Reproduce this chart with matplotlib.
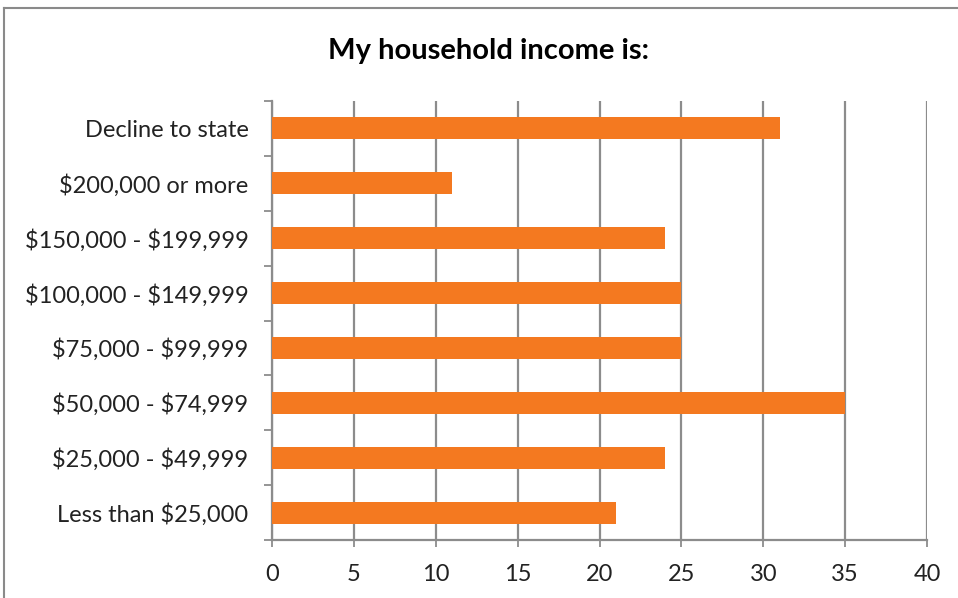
import matplotlib.pyplot as plt
from matplotlib.lines import Line2D
import numpy as np

categories = ['Less than $25,000', '$25,000 - $49,999', '$50,000 - $74,999',
              '$75,000 - $99,999', '$100,000 - $149,999', '$150,000 - $199,999',
              '$200,000 or more', 'Decline to state']
values = [21, 24, 35, 25, 25, 24, 11, 31]
xticks = [0, 5, 10, 15, 20, 25, 30, 35, 40]

plt.rcParams['font.family'] = ['Lato', 'DejaVu Sans']

fig = plt.figure(figsize=(9.58, 5.98), dpi=100)
ax = fig.add_axes([272 / 958, 1 - 540 / 598, 655 / 958, 439 / 598])

pos = np.arange(len(categories))
ax.barh(pos, values, height=0.4, color='#F47920', zorder=3)

ax.set_xlim(0, 40)
ax.set_ylim(-0.5, len(categories) - 0.5)
ax.set_xticks(xticks)
ax.set_xticklabels([str(t) for t in xticks], fontsize=17, color='#222222')
ax.set_yticks(pos)
# escape the dollar signs so they are not read as math text
ax.set_yticklabels([c.replace('$', r'\$') for c in categories], fontsize=17, color='#222222')
ax.set_yticks(np.arange(-0.5, len(categories)), minor=True)

ax.grid(axis='x', color='#8c8c8c', linewidth=1.6, zorder=0)
ax.tick_params(axis='y', which='major', length=0, pad=17)
ax.tick_params(axis='y', which='minor', length=6, width=1.3, color='#8c8c8c', direction='out')
ax.tick_params(axis='x', length=5, width=1.3, color='#8c8c8c', pad=12)

for side in ['top', 'right']:
    ax.spines[side].set_visible(False)
for side in ['left', 'bottom']:
    ax.spines[side].set_color('#8c8c8c')
    ax.spines[side].set_linewidth(1.6)

ax.set_title('My household income is:', fontsize=21, fontweight='bold', pad=30, x=0.33)

# outer chart frame (left and top edges visible)
fig.add_artist(Line2D([4 / 958, 4 / 958], [0, 1 - 8 / 598], transform=fig.transFigure,
                      color='#8a8a8a', linewidth=1.5))
fig.add_artist(Line2D([4 / 958, 1], [1 - 8 / 598, 1 - 8 / 598], transform=fig.transFigure,
                      color='#8a8a8a', linewidth=1.5))

fig.savefig('out.png', dpi=100)
